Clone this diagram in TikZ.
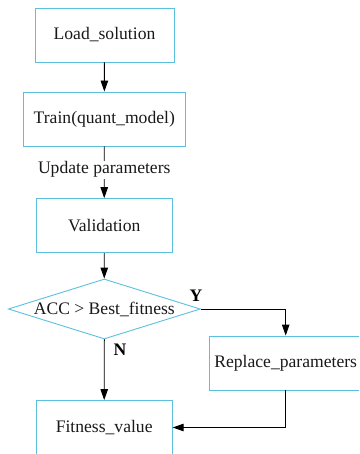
\documentclass[tikz,border=0pt]{standalone}
\usepackage{fontspec}
\setmainfont{Liberation Serif}
\usetikzlibrary{shapes.geometric,arrows.meta}
\definecolor{boxc}{RGB}{91,192,222}
\definecolor{txtc}{RGB}{25,25,25}
\tikzset{
  procbox/.style={draw=boxc, line width=0.9pt, rectangle, minimum height=54pt, inner sep=0pt, text=txtc, font=\fontsize{17.6}{20}\selectfont},
  decbox/.style={draw=boxc, line width=0.9pt, diamond, aspect=3.2, minimum width=192pt, minimum height=60pt, inner sep=0pt, text=txtc, font=\fontsize{17.6}{20}\selectfont},
  conn/.style={draw=black, line width=0.9pt, -{Triangle[length=11pt,width=7.5pt]}},
  lbl/.style={text=txtc, font=\fontsize{17.6}{20}\selectfont, inner sep=1pt},
  yn/.style={text=black, font=\fontsize{17.6}{20}\selectfont\bfseries, inner sep=0pt}
}
\begin{document}
\begin{tikzpicture}[x=1pt,y=-1pt]
\useasboundingbox (0,0) rectangle (359,454);
\clip (0,0) rectangle (359,454);
\node[procbox, minimum width=139pt] (load) at (104.5,35) {Load\_solution};
\node[procbox, minimum width=162pt] (train) at (104.3,119) {Train(quant\_model)};
\node[procbox, minimum width=136pt] (valid) at (104.2,225.6) {Validation};
\node[decbox] (dec) at (104.3,309) {\makebox[0pt]{ACC > Best\_fitness}};
\node[procbox, minimum width=153pt] (repl) at (285.7,363) {Replace\_parameters};
\node[procbox, minimum width=136pt] (fit) at (104.2,427.5) {Fitness\_value};
\draw[conn] (load) -- (train);
\draw[conn] (train) -- node[lbl, fill=white, pos=0.45] (upd) {Update parameters} (valid);
\draw[conn] (valid) -- (dec);
\draw[conn] (dec.east) -| (repl.north);
\draw[conn] (dec.south) -- (fit.north);
\draw[conn] (repl.south) |- (fit.east);
\node[yn] (ylab) at (196,296) {Y};
\node[yn] (nlab) at (120,350) {N};
\end{tikzpicture}
\end{document}
